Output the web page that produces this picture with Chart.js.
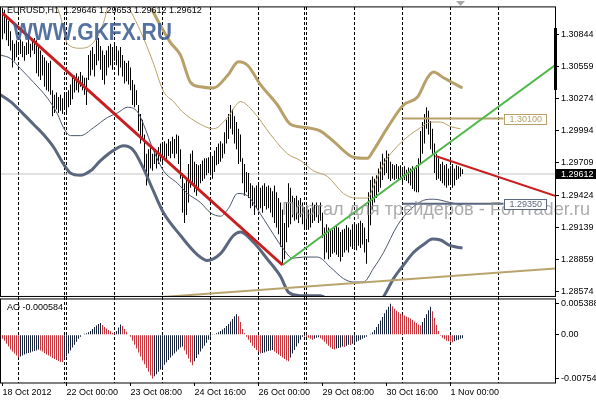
<!DOCTYPE html>
<html><head><meta charset="utf-8">
<script src="https://cdn.jsdelivr.net/npm/chart.js@4.4.0/dist/chart.umd.min.js"></script>
<style>html,body{margin:0;padding:0;background:#fff;overflow:hidden}canvas{display:block}</style>
</head><body>
<canvas id="c" width="596" height="400"></canvas>
<script>
const symbolTitle = 'EURUSD,H1';
const lastOHLC = [1.29646, 1.29653, 1.29612, 1.29612];
const watermark1 = 'WWW.GKFX.RU';
const watermark2 = 'Портал для трейдеров - ForTrader.ru';

const barHigh = [1.3109,1.3106,1.3100,1.3096,1.3087,1.3079,1.3076,1.3079,1.3076,1.3080,1.3078,1.3074,1.3077,1.3080,1.3076,1.3079,1.3081,1.3079,1.3074,1.3070,
1.3066,1.3064,1.3061,1.3059,1.3061,1.3035,1.3031,1.3033,1.3029,1.3031,1.3028,1.3031,1.3033,1.3035,1.3040,1.3047,1.3048,1.3050,1.3047,1.3051,
1.3048,1.3046,1.3046,1.3066,1.3070,1.3073,1.3067,1.3079,1.3081,1.3074,1.3070,1.3066,1.3070,1.3074,1.3076,1.3073,1.3077,1.3074,1.3070,1.3073,
1.3066,1.3061,1.3059,1.3061,1.3055,1.3044,1.3040,1.3035,1.3022,1.3014,1.3009,1.2996,1.2979,1.2983,1.2985,1.2979,1.2983,1.2982,1.2985,1.2988,
1.2989,1.2990,1.2988,1.2992,1.2990,1.2994,1.2992,1.2996,1.2995,1.2983,1.2962,1.2953,1.2957,1.2970,1.2979,1.2982,1.2972,1.2970,1.2969,1.2970,
1.2973,1.2975,1.2975,1.2976,1.2979,1.2977,1.2982,1.2985,1.2988,1.2990,1.2988,1.2998,1.3009,1.3014,1.3022,1.3018,1.3012,1.3007,1.3001,1.2996,
1.2975,1.2970,1.2963,1.2962,1.2953,1.2951,1.2949,1.2951,1.2953,1.2949,1.2951,1.2953,1.2950,1.2951,1.2949,1.2946,1.2951,1.2945,1.2940,1.2936,
1.2930,1.2918,1.2936,1.2953,1.2949,1.2942,1.2940,1.2942,1.2938,1.2940,1.2936,1.2931,1.2933,1.2930,1.2931,1.2936,1.2934,1.2936,1.2933,1.2936,
1.2927,1.2914,1.2917,1.2914,1.2912,1.2912,1.2914,1.2916,1.2914,1.2910,1.2912,1.2913,1.2916,1.2914,1.2912,1.2917,1.2918,1.2917,1.2918,1.2920,
1.2918,1.2914,1.2904,1.2945,1.2956,1.2959,1.2957,1.2960,1.2966,1.2972,1.2979,1.2975,1.2982,1.2979,1.2972,1.2970,1.2969,1.2970,1.2968,1.2969,
1.2966,1.2968,1.2965,1.2967,1.2966,1.2968,1.2966,1.2969,1.2975,1.2999,1.3007,1.3014,1.3020,1.3017,1.3008,1.3001,1.2988,1.2979,1.2975,1.2970,
1.2972,1.2969,1.2970,1.2966,1.2968,1.2970,1.2966,1.2969,1.2968,1.2967,1.29653];

const barLow = [1.3080,1.3085,1.3079,1.3074,1.3070,1.3055,1.3061,1.3064,1.3066,1.3067,1.3064,1.3061,1.3066,1.3067,1.3064,1.3070,1.3067,1.3050,1.3047,1.3044,
1.3048,1.3038,1.3035,1.3034,1.3031,1.3012,1.3015,1.3018,1.3015,1.3017,1.3014,1.3018,1.3015,1.3020,1.3022,1.3027,1.3033,1.3035,1.3033,1.3038,
1.3035,1.3031,1.3022,1.3044,1.3048,1.3053,1.3047,1.3057,1.3061,1.3053,1.3044,1.3040,1.3048,1.3055,1.3057,1.3053,1.3061,1.3057,1.3048,1.3055,
1.3047,1.3041,1.3043,1.3040,1.3035,1.3022,1.3020,1.3022,1.2999,1.2988,1.2992,1.2966,1.2951,1.2957,1.2966,1.2964,1.2970,1.2966,1.2970,1.2972,
1.2970,1.2975,1.2973,1.2977,1.2975,1.2979,1.2975,1.2979,1.2970,1.2957,1.2927,1.2918,1.2925,1.2936,1.2949,1.2953,1.2945,1.2942,1.2949,1.2953,
1.2955,1.2957,1.2960,1.2962,1.2960,1.2957,1.2963,1.2969,1.2970,1.2972,1.2975,1.2979,1.2988,1.2992,1.3001,1.2996,1.2988,1.2983,1.2970,1.2972,
1.2953,1.2942,1.2945,1.2940,1.2931,1.2933,1.2925,1.2931,1.2930,1.2931,1.2927,1.2933,1.2930,1.2931,1.2927,1.2923,1.2918,1.2914,1.2908,1.2897,
1.2882,1.2886,1.2901,1.2914,1.2917,1.2923,1.2920,1.2921,1.2918,1.2923,1.2917,1.2912,1.2914,1.2912,1.2914,1.2918,1.2920,1.2923,1.2918,1.2920,
1.2905,1.2886,1.2892,1.2886,1.2888,1.2891,1.2892,1.2890,1.2888,1.2884,1.2888,1.2892,1.2894,1.2892,1.2897,1.2895,1.2897,1.2894,1.2898,1.2896,
1.2899,1.2892,1.2882,1.2901,1.2916,1.2930,1.2936,1.2940,1.2945,1.2949,1.2956,1.2960,1.2962,1.2957,1.2955,1.2957,1.2956,1.2957,1.2955,1.2956,
1.2953,1.2956,1.2955,1.2953,1.2951,1.2948,1.2946,1.2945,1.2945,1.2970,1.2979,1.2988,1.3001,1.2996,1.2983,1.2979,1.2962,1.2956,1.2957,1.2955,
1.2953,1.2951,1.2949,1.2951,1.2953,1.2949,1.2951,1.2956,1.2957,1.2959,1.29612];

const aoValues = [-0.00068,-0.00102,-0.00153,-0.00204,-0.00255,-0.00289,-0.00323,-0.00357,-0.00391,-0.00374,
-0.00357,-0.00340,-0.00323,-0.00315,-0.00306,-0.00289,-0.00281,-0.00272,-0.00255,-0.00272,
-0.00289,-0.00315,-0.00340,-0.00357,-0.00374,-0.00400,-0.00417,-0.00434,-0.00451,-0.00468,
-0.00476,-0.00425,-0.00374,-0.00323,-0.00272,-0.00221,-0.00170,-0.00119,-0.00068,-0.00034,
0.00009,0.00017,0.00026,0.00043,0.00068,0.00102,0.00136,0.00162,0.00187,0.00204,
0.00170,0.00136,0.00111,0.00085,0.00060,0.00034,0.00026,0.00068,0.00128,0.00179,
0.00153,0.00102,0.00051,0.00009,-0.00034,-0.00102,-0.00170,-0.00238,-0.00306,-0.00374,
-0.00442,-0.00510,-0.00575,-0.00640,-0.00700,-0.00754,-0.00715,-0.00680,-0.00640,-0.00600,
-0.00561,-0.00519,-0.00476,-0.00434,-0.00391,-0.00357,-0.00323,-0.00289,-0.00255,-0.00221,
-0.00204,-0.00272,-0.00340,-0.00408,-0.00476,-0.00527,-0.00459,-0.00400,-0.00340,-0.00289,
-0.00238,-0.00187,-0.00136,-0.00085,-0.00034,0.00005,0.00014,0.00026,0.00043,0.00068,
0.00094,0.00119,0.00153,0.00187,0.00230,0.00272,0.00323,0.00357,0.00323,0.00221,
0.00102,0.00026,-0.00034,-0.00085,-0.00136,-0.00187,-0.00230,-0.00264,-0.00298,-0.00323,
-0.00315,-0.00306,-0.00289,-0.00281,-0.00272,-0.00264,-0.00289,-0.00315,-0.00340,-0.00366,
-0.00391,-0.00417,-0.00442,-0.00459,-0.00391,-0.00323,-0.00264,-0.00204,-0.00145,-0.00085,
-0.00034,-0.00026,-0.00034,-0.00051,-0.00068,-0.00085,-0.00068,-0.00051,-0.00043,-0.00060,
-0.00085,-0.00119,-0.00153,-0.00187,-0.00221,-0.00247,-0.00255,-0.00238,-0.00230,-0.00221,
-0.00204,-0.00209,-0.00187,-0.00170,-0.00177,-0.00153,-0.00136,-0.00119,-0.00102,-0.00085,
-0.00068,-0.00051,-0.00034,-0.00009,0.00017,0.00043,0.00085,0.00136,0.00187,0.00247,
0.00306,0.00374,0.00434,0.00485,0.005388,0.00493,0.00451,0.00417,0.00391,0.00366,
0.00349,0.00332,0.00315,0.00298,0.00281,0.00255,0.00230,0.00204,0.00179,0.00162,
0.00221,0.00289,0.00357,0.00425,0.00485,0.00408,0.00289,0.00170,0.00068,-0.00017,
-0.00051,-0.00077,-0.00102,-0.00111,-0.00119,-0.00128,-0.00111,-0.00094,-0.00085,-0.00068,
-0.000584];

// [bar index, price] points read along the envelope bands
const upperOuter = [[69,1.3131],[74,1.3109],[79,1.3092],[84,1.3077],[89,1.3066],[94,1.3042],[99,1.3038],[105.5,1.3037],[112.5,1.3048],[118,1.3060],[122.5,1.3057],[129,1.3040],[137.5,1.3022],[144,1.3005],[152.5,1.3002],[159,1.2999],[165.5,1.2990],[175.5,1.2976],[182.5,1.2975],[185.5,1.2982],[192.5,1.3002],[200.5,1.3022],[207.5,1.3029],[212.5,1.3046],[215.5,1.3051],[220.5,1.3046],[230,1.3037]];
const upperInner = [[24,1.3122],[29,1.3100],[32.5,1.3076],[39,1.3072],[45.5,1.3077],[50,1.3092],[55,1.3118],[60,1.3118],[64,1.3105],[69,1.3087],[75,1.3061],[80.5,1.3034],[85.5,1.3025],[90,1.3016],[99,1.3005],[105.5,1.3001],[112.5,1.3011],[119,1.3025],[125.5,1.3016],[134,1.2996],[142.5,1.2979],[149,1.2973],[155.5,1.2964],[162.5,1.2959],[170.5,1.2944],[176.5,1.2940],[182.5,1.2940],[185.5,1.2950],[190.5,1.2970],[195.5,1.2982],[202.5,1.2994],[209,1.3002],[214,1.3007],[219,1.3007],[224,1.3003],[229,1.3001]];
const lowerInner = [[-1,1.3066],[4,1.3063],[9,1.3054],[15.5,1.3042],[22.5,1.3028],[27.5,1.3014],[30.5,1.3002],[34,1.2995],[39,1.2995],[45.5,1.3002],[52.5,1.3011],[57.5,1.3015],[62.5,1.3020],[67.5,1.3016],[70.5,1.3005],[75.5,1.2982],[80.5,1.2964],[87.5,1.2953],[92.5,1.2944],[99,1.2936],[104,1.2927],[109,1.2924],[113,1.2931],[117.5,1.2944],[122.5,1.2942],[127.5,1.2930],[134,1.2912],[140.5,1.2895],[145,1.2887],[150.5,1.2888],[157.5,1.2888],[164,1.2879],[170.5,1.2869],[175.5,1.2866],[180.5,1.2866],[185.5,1.2878],[190.5,1.2892],[197.5,1.2916],[204,1.2930],[210.5,1.2938],[215.5,1.2939],[224,1.2936],[230,1.2934]];
const lowerOuter = [[-1,1.3031],[4,1.3025],[10.5,1.3014],[15.5,1.3005],[20.5,1.2996],[25.5,1.2985],[30.5,1.2970],[34,1.2962],[39,1.2960],[44,1.2964],[49,1.2973],[55.5,1.2982],[60.5,1.2986],[65.5,1.2982],[70.5,1.2966],[75.5,1.2946],[80.5,1.2927],[89,1.2907],[97.5,1.2890],[102.5,1.2885],[109,1.2891],[115.5,1.2907],[119,1.2910],[125.5,1.2901],[132.5,1.2886],[139,1.2871],[143,1.2857],[149,1.2854],[159,1.2854],[166.5,1.2845],[176.5,1.2836],[185,1.2842],[190.5,1.2853],[195.5,1.2869],[200.5,1.2881],[205.5,1.2892],[210.5,1.2899],[215,1.2904],[219,1.2903],[224,1.2898],[230,1.2896]];

const trendDown = [[0,1.3103],[140,1.2881]];
const trendUp = [[140,1.2881],[276.25,1.3057]];
const trendShort = [[216.5,1.2977],[276.25,1.2942]];
const trendBase = [[70,1.28515],[276.25,1.2878]];
const levelPrices = [1.30100, 1.29350];
const levelRange = [200, 250.5];

const xTickIdx = [0,32,64,96,128,160,192,224];
const xTickLabels = ['18 Oct 2012','22 Oct 00:00','23 Oct 08:00','24 Oct 16:00','26 Oct 00:00','29 Oct 08:00','30 Oct 16:00','1 Nov 00:00'];
const daySepIdx = [8,31,32,56,80,104,128,151,152,176,200,224,248];
const priceTicks = [1.28574,1.28859,1.29139,1.29424,1.29709,1.29994,1.30274,1.30559,1.30844];
const aoTicks = [0.005388, 0, -0.00754];
const aoTickLabels = ['0.005388','0.00','-0.00754'];

const X_MIN = -0.75, X_MAX = 276.25;
const FONT = '"Liberation Sans", Arial, sans-serif';
Chart.defaults.font.family = FONT;
Chart.defaults.font.size = 9;
Chart.defaults.color = '#000';

const pts = arr => arr.map(p => ({x: p[0], y: p[1]}));
const lastClose = lastOHLC[3];
const GOLD = '#b8a168', SLATE = '#5a677e';
const RED_AO = '#c4343a', NAVY_AO = '#16233b';

const datasets = [
  {type:'line', data:[{x:X_MIN,y:lastClose},{x:X_MAX,y:lastClose}], borderColor:'#c4c4c4', borderWidth:1, pointRadius:0, yAxisID:'y', order:40},
  {type:'bar', data: barHigh.map((h,i)=>({x:i, y:[barLow[i], h]})), backgroundColor:'#000', barThickness:1, inflateAmount:0, grouped:false, yAxisID:'y', order:30},
  {type:'line', data:pts(upperOuter), borderColor:GOLD, borderWidth:3, pointRadius:0, cubicInterpolationMode:'monotone', yAxisID:'y', order:20},
  {type:'line', data:pts(upperInner), borderColor:GOLD, borderWidth:1, pointRadius:0, cubicInterpolationMode:'monotone', yAxisID:'y', order:20},
  {type:'line', data:pts(lowerInner), borderColor:'#4c586e', borderWidth:1, pointRadius:0, cubicInterpolationMode:'monotone', yAxisID:'y', order:20},
  {type:'line', data:pts(lowerOuter), borderColor:SLATE, borderWidth:3, pointRadius:0, cubicInterpolationMode:'monotone', yAxisID:'y', order:20},
  {type:'line', data:pts(trendBase), borderColor:'#b9a46e', borderWidth:2, pointRadius:0, yAxisID:'y', order:10},
  {type:'line', data:levelRange.map(x=>({x, y:levelPrices[0]})), borderColor:GOLD, borderWidth:2, pointRadius:0, yAxisID:'y', order:9},
  {type:'line', data:levelRange.map(x=>({x, y:levelPrices[1]})), borderColor:SLATE, borderWidth:2, pointRadius:0, yAxisID:'y', order:9},
  {type:'line', data:pts(trendDown), borderColor:'#c81e1e', borderWidth:3, pointRadius:0, yAxisID:'y', order:5},
  {type:'line', data:pts(trendUp), borderColor:'#4cb846', borderWidth:2, pointRadius:0, yAxisID:'y', order:5},
  {type:'line', data:pts(trendShort), borderColor:'#c81e1e', borderWidth:2, pointRadius:0, yAxisID:'y', order:6},
  {type:'bar', data: aoValues.map((v,i)=>({x:i, y:v})),
    backgroundColor: aoValues.map((v,i)=> (i===0 || v < aoValues[i-1]) ? RED_AO : NAVY_AO),
    barThickness:1, inflateAmount:0, grouped:false, yAxisID:'y2', order:30}
];

const panelClip = {
  id:'panelClip',
  beforeDatasetDraw(chart, args){
    const ds = chart.data.datasets[args.index];
    const ca = chart.chartArea, ctx = chart.ctx;
    const sc = chart.scales[ds.yAxisID];
    const top = ds.yAxisID === 'y2' ? sc.top + 2 : sc.top;
    const bottom = ds.yAxisID === 'y2' ? sc.bottom : sc.bottom - 1;
    ctx.save(); ctx.beginPath(); ctx.rect(ca.left, top, ca.right - ca.left, bottom - top); ctx.clip();
  },
  afterDatasetDraw(chart){ chart.ctx.restore(); }
};

function fitText(ctx, text, font, size, x, baseline, width){
  ctx.font = font.replace('SIZE', size + 'px');
  const w = ctx.measureText(text).width;
  ctx.save(); ctx.translate(x, baseline); ctx.scale(width / w, 1); ctx.fillText(text, 0, 0); ctx.restore();
}

const decor = {
  id:'decor',
  afterDatasetsDraw(chart){
    const {ctx, chartArea:ca, scales} = chart;
    const yM = scales.y, yA = scales.y2, xs = scales.x;
    ctx.save();
    ctx.textBaseline = 'alphabetic'; ctx.textAlign = 'left';
    // watermarks
    ctx.fillStyle = 'rgba(62,94,148,0.88)';
    fitText(ctx, watermark1, 'bold SIZE ' + FONT, 23, 13, 40, 159);
    ctx.fillStyle = 'rgba(150,150,150,0.8)';
    fitText(ctx, watermark2, 'SIZE ' + FONT, 18.5, 282, 215, 308);
    // frames
    ctx.strokeStyle = '#000'; ctx.lineWidth = 1;
    ctx.strokeRect(ca.left - 0.5, yM.top - 0.5, ca.right - ca.left + 1, yM.bottom - yM.top - 0.5);
    ctx.strokeRect(ca.left - 0.5, yA.top + 1.5, ca.right - ca.left + 1, yA.bottom - yA.top - 1.5);
    ctx.fillStyle = '#000';
    ctx.fillRect(ca.right - 1, 28, 3, 62);
    // shift marker
    ctx.fillStyle = '#a8a8a8';
    ctx.beginPath(); ctx.moveTo(456, 1); ctx.lineTo(465, 1); ctx.lineTo(460.5, 6); ctx.closePath(); ctx.fill();
    // level labels
    ctx.font = '9px ' + FONT; ctx.textBaseline = 'middle';
    const lvCol = [GOLD, SLATE];
    levelPrices.forEach((p, k) => {
      const x0 = Math.round(xs.getPixelForValue(levelRange[1])) + 0.5;
      const yy = Math.round(yM.getPixelForValue(p)) + 0.5;
      ctx.fillStyle = '#fff'; ctx.fillRect(x0, yy - 5, 42, 10);
      ctx.strokeStyle = lvCol[k]; ctx.strokeRect(x0, yy - 5, 42, 10);
      ctx.fillStyle = lvCol[k]; ctx.fillText(p.toFixed(5), x0 + 5, yy + 0.5);
    });
    // texts
    ctx.fillStyle = '#000'; ctx.textBaseline = 'alphabetic';
    ctx.fillText(symbolTitle + '  ' + lastOHLC.map(v => v.toFixed(5)).join(' '), 7, 13);
    ctx.fillText('AO ' + aoValues[aoValues.length - 1].toFixed(6), 7, 310);
    // current price tag
    const py = Math.round(yM.getPixelForValue(lastClose));
    ctx.fillStyle = '#000'; ctx.fillRect(ca.right, py - 5, 596 - ca.right, 10);
    ctx.fillStyle = '#fff'; ctx.textBaseline = 'middle';
    ctx.fillText(lastClose.toFixed(5), ca.right + 6, py + 0.5);
    ctx.restore();
  }
};

new Chart(document.getElementById('c'), {
  type:'bar',
  data:{datasets},
  options:{
    responsive:false, animation:false, devicePixelRatio:1,
    layout:{padding:{left:1, top:1, right:0, bottom:1}},
    plugins:{legend:{display:false}, tooltip:{enabled:false}},
    scales:{
      x:{type:'linear', position:'bottom', min:X_MIN, max:X_MAX, offset:false,
         afterBuildTicks: s => { s.ticks = xTickIdx.map(v => ({value:v})); },
         afterFit: s => { s.height = 16; },
         ticks:{align:'start', maxRotation:0, autoSkip:false, padding:1, callback:(v,i)=>xTickLabels[i]},
         grid:{drawOnChartArea:false, drawTicks:true, tickLength:3, color:'#000', offset:false},
         border:{display:false}},
      xs:{type:'linear', position:'top', min:X_MIN, max:X_MAX, offset:false,
         afterBuildTicks: s => { s.ticks = daySepIdx.map(v => ({value:v})); },
         afterFit: s => { s.height = 0; },
         ticks:{display:false},
         grid:{drawOnChartArea:true, drawTicks:false, color:'#000', lineWidth:1, offset:false},
         border:{display:false, dash:[3,2]}},
      y:{type:'linear', position:'right', stack:'p', stackWeight:295, min:1.28524, max:1.31080,
         afterBuildTicks: s => { s.ticks = priceTicks.map(v => ({value:v})); },
         afterFit: s => { s.width = 41; },
         ticks:{padding:2, autoSkip:false, callback:v => v.toFixed(5)},
         grid:{drawOnChartArea:false, drawTicks:true, tickLength:4, color:'#000'},
         border:{display:false}},
      y2:{type:'linear', position:'right', stack:'p', stackWeight:87, min:-0.00833, max:0.00646,
         afterBuildTicks: s => { s.ticks = aoTicks.map(v => ({value:v})); },
         afterFit: s => { s.width = 41; },
         ticks:{padding:2, autoSkip:false, callback:(v,i)=>aoTickLabels[i]},
         grid:{drawOnChartArea:false, drawTicks:true, tickLength:4, color:'#000'},
         border:{display:false}}
    }
  },
  plugins:[panelClip, decor]
});
</script>
</body></html>
